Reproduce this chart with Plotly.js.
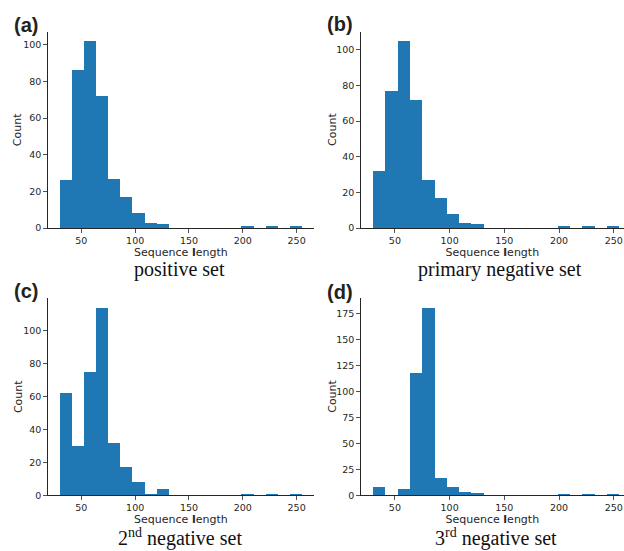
<!DOCTYPE html>
<html>
<head>
<meta charset="utf-8">
<script src="https://cdn.plot.ly/plotly-3.0.1.min.js"></script>
<style>
html,body{margin:0;padding:0;background:#fff;overflow:hidden;}
#chart{width:624px;height:551px;}
</style>
</head>
<body>
<div id="chart"></div>
<script>
// Histogram bins (Sequence length), 20 bins of width 11.25 from 30 to 255
const binCenters = [35.625, 46.875, 58.125, 69.375, 80.625, 91.875, 103.125, 114.375, 125.625, 136.875,
                    148.125, 159.375, 170.625, 181.875, 193.125, 204.375, 215.625, 226.875, 238.125, 249.375];
const binWidth = 11.25;

// Counts per bin
const positiveSet        = [26, 86, 102, 72, 27, 17, 8, 3, 2, 0, 0, 0, 0, 0, 0, 1, 0, 1, 0, 1];
const primaryNegativeSet = [32, 77, 105, 72, 27, 17, 8, 3, 2, 0, 0, 0, 0, 0, 0, 1, 0, 1, 0, 1];
const secondNegativeSet  = [62, 30, 75, 114, 32, 17, 8, 1, 4, 0, 0, 0, 0, 0, 0, 1, 0, 1, 0, 1];
const thirdNegativeSet   = [8, 0, 6, 118, 181, 17, 8, 3, 2, 0, 0, 0, 0, 0, 0, 1, 0, 1, 0, 1];

const xTicks = [50, 100, 150, 200, 250];
const yTicksABC = [0, 20, 40, 60, 80, 100];
const yTicksD = [0, 25, 50, 75, 100, 125, 150, 175];

const panelLabels = ['(a)', '(b)', '(c)', '(d)'];
const subtitles = ['positive set', 'primary negative set', '2<sup>nd</sup> negative set', '3<sup>rd</sup> negative set'];
const yTitle = 'Count';

const W = 624, H = 551;
const barColor = '#1f77b4';
const ink = '#262626';

function bar(y, xa, ya) {
  return {type: 'bar', x: binCenters, y: y, width: binWidth, xaxis: xa, yaxis: ya,
          marker: {color: barColor, line: {width: 0}}, showlegend: false, hoverinfo: 'x+y'};
}

const data = [
  bar(positiveSet, 'x', 'y'),
  bar(primaryNegativeSet, 'x2', 'y2'),
  bar(secondNegativeSet, 'x3', 'y3'),
  bar(thirdNegativeSet, 'x4', 'y4')
];

function xax(l, r, range, anchor) {
  return {domain: [l / W, r / W], range: range, anchor: anchor,
          showline: true, linecolor: ink, linewidth: 1,
          ticks: 'outside', ticklen: 3.5, tickwidth: 0.8, tickcolor: ink,
          tickvals: xTicks, showgrid: false, zeroline: false,
          tickfont: {family: 'DejaVu Sans', size: 9.5, color: ink},
          title: {text: 'Sequence <b>l</b>ength', standoff: 0, font: {family: 'DejaVu Sans', size: 11, color: ink}}};
}
function yax(top, bottom, range, ticks, anchor) {
  return {domain: [1 - bottom / H, 1 - top / H], range: range, anchor: anchor,
          showline: true, linecolor: ink, linewidth: 1,
          ticks: 'outside', ticklen: 3.5, tickwidth: 0.8, tickcolor: ink,
          tickvals: ticks, showgrid: false, zeroline: false,
          tickfont: {family: 'DejaVu Sans', size: 9.5, color: ink}};
}

const labelPos = [[25.5, 25], [339.7, 24], [25.8, 291], [339.7, 292]];
const subPos = [[180, 269], [500, 269], [180, 537.5], [495.5, 537.5]];
const yTitlePos = [[18.3, 129.9], [333, 129.9], [18.3, 396.8], [333, 396.8]];

const annotations = [];
panelLabels.forEach((t, i) => {
  annotations.push({text: '<b>' + t + '</b>', xref: 'paper', yref: 'paper',
    x: labelPos[i][0] / W, y: 1 - labelPos[i][1] / H, xanchor: 'center', yanchor: 'middle',
    showarrow: false, font: {family: 'Liberation Sans', size: 20, color: '#222'}});
});
subtitles.forEach((t, i) => {
  annotations.push({text: t, xref: 'paper', yref: 'paper',
    x: subPos[i][0] / W, y: 1 - subPos[i][1] / H, xanchor: 'center', yanchor: 'middle',
    showarrow: false, font: {family: 'Liberation Serif', size: 20, color: '#111'}});
});
yTitlePos.forEach(p => {
  annotations.push({text: yTitle, xref: 'paper', yref: 'paper', textangle: -90,
    x: p[0] / W, y: 1 - p[1] / H, xanchor: 'center', yanchor: 'middle',
    showarrow: false, font: {family: 'DejaVu Sans', size: 11, color: ink}});
});

const layout = {
  width: W, height: H,
  margin: {l: 0, r: 0, t: 0, b: 0},
  paper_bgcolor: '#fff', plot_bgcolor: '#fff',
  bargap: 0,
  xaxis: xax(47.7, 314.1, [18.75, 266.25], 'y'),
  yaxis: yax(31.7, 228, [0, 107.1], yTicksABC, 'x'),
  xaxis2: xax(360.7, 624, [18.75, 259.4], 'y2'),
  yaxis2: yax(31.7, 228, [0, 110.25], yTicksABC, 'x2'),
  xaxis3: xax(47.7, 314.1, [18.75, 266.25], 'y3'),
  yaxis3: yax(298.3, 495.3, [0, 119.7], yTicksABC, 'x3'),
  xaxis4: xax(360.7, 624, [18.75, 259.4], 'y4'),
  yaxis4: yax(298.3, 495.3, [0, 190.05], yTicksD, 'x4'),
  annotations: annotations
};

Plotly.newPlot('chart', data, layout, {displayModeBar: false, staticPlot: true});
</script>
</body>
</html>
